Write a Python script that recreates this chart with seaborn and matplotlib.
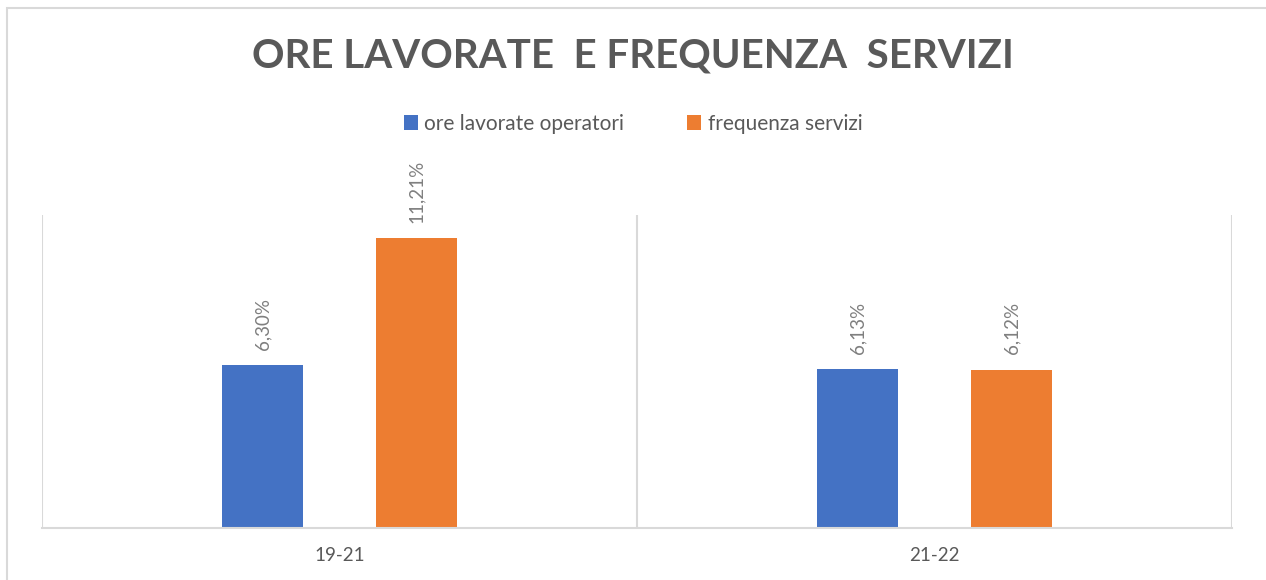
import matplotlib
matplotlib.use("Agg")
import matplotlib.pyplot as plt
import seaborn as sns
import pandas as pd
from matplotlib.patches import Rectangle, Patch

# ---- data ----
categories = ["19-21", "21-22"]
series_names = ["ore lavorate operatori", "frequenza servizi"]
ore_lavorate = [6.30, 6.13]
frequenza = [11.21, 6.12]
colors = ["#4472C4", "#ED7D31"]

df = pd.DataFrame({
    "periodo": categories * 2,
    "serie": [series_names[0]] * 2 + [series_names[1]] * 2,
    "valore": ore_lavorate + frequenza,
})

sns.set_theme(style="white")
plt.rcParams["font.family"] = ["Lato", "DejaVu Sans"]

fig = plt.figure(figsize=(12.66, 5.80), dpi=100)
ax = fig.add_axes([42 / 1266, 1 - 528 / 580, (1232 - 42) / 1266, (528 - 215) / 580])

sns.barplot(data=df, x="periodo", y="valore", hue="serie", order=categories,
            hue_order=series_names, palette=colors, width=0.518, gap=0.475,
            saturation=1, legend=False, ax=ax, linewidth=0)

ax.set_xlim(-0.5, 1.5)
ax.set_ylim(0, 12.1)
ax.set_yticks([])
ax.set_xlabel("")
ax.set_ylabel("")
for s in ["top", "left", "right"]:
    ax.spines[s].set_visible(False)
ax.spines["bottom"].set_color("#d9d9d9")
ax.spines["bottom"].set_linewidth(1.5)
for xv in [-0.5, 0.5, 1.5]:
    ax.axvline(xv, color="#d9d9d9", linewidth=1.5, zorder=0)

ax.set_xticks(range(len(categories)))
ax.set_xticklabels(categories, color="#595959", fontsize=13.5)
ax.tick_params(axis="x", length=0, pad=14)

for cont in ax.containers:
    for bar in cont:
        h = bar.get_height()
        ax.annotate(f"{h:.2f}%".replace(".", ","),
                    (bar.get_x() + bar.get_width() / 2, h),
                    xytext=(0, 11), textcoords="offset points",
                    rotation=90, ha="center", va="bottom",
                    color="#7f7f7f", fontsize=13.5)

fig.text(0.5, 1 - 56 / 580, "ORE LAVORATE  E FREQUENZA  SERVIZI",
         ha="center", va="center", fontsize=29, fontweight="bold", color="#595959")

handles = [Patch(facecolor=c, edgecolor="none") for c in colors]
fig.legend(handles, series_names, loc="center", bbox_to_anchor=(0.5, 1 - 124 / 580),
           ncol=2, frameon=False, fontsize=15, handlelength=0.7, handleheight=0.7,
           handletextpad=0.3, columnspacing=3.0, labelcolor="#595959")

fig.patches.append(Rectangle((7 / 1266, -0.1), 1.2, 1 - 8 / 580 + 0.1,
                             transform=fig.transFigure, fill=False,
                             edgecolor="#d9d9d9", linewidth=1.5))

fig.savefig("out.png", dpi=100, facecolor="white")
